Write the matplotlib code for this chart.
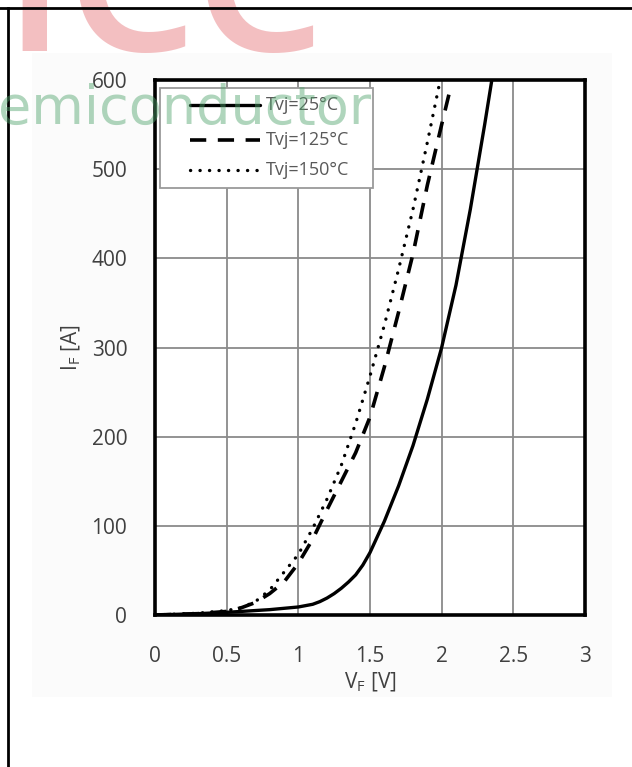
import matplotlib
matplotlib.use("Agg")
import matplotlib.pyplot as plt
from matplotlib.lines import Line2D
from matplotlib.patches import Rectangle

plt.rcParams['font.family'] = ['Open Sans', 'DejaVu Sans']

# ---- data ----
v_25 = [0, 0.3, 0.5, 0.8, 1.0, 1.05, 1.1, 1.15, 1.2, 1.25, 1.3, 1.35, 1.4, 1.45, 1.5,
        1.6, 1.7, 1.8, 1.9, 2.0, 2.1, 2.2, 2.3, 2.35]
i_25 = [0, 1.5, 3, 6, 9, 10.5, 12, 15, 19, 24, 30, 37, 45, 56, 70,
        105, 145, 190, 242, 300, 370, 455, 550, 600]

v_125 = [0, 0.3, 0.5, 0.6, 0.7, 0.8, 0.9, 1.0, 1.1, 1.2, 1.3, 1.4, 1.5, 1.6, 1.7,
         1.8, 1.9, 2.0, 2.06]
i_125 = [0, 1.5, 4, 8, 14, 24, 37, 58, 85, 118, 150, 182, 222, 278, 340,
         405, 482, 550, 590]

v_150 = [0, 0.3, 0.5, 0.6, 0.7, 0.8, 0.9, 1.0, 1.1, 1.2, 1.3, 1.4, 1.5, 1.6, 1.7,
         1.8, 1.9, 1.99]
i_150 = [0, 2, 5, 8, 15, 28, 48, 68, 97, 130, 168, 215, 268, 325, 388,
         455, 530, 600]

labels = ["Tvj=25°C", "Tvj=125°C", "Tvj=150°C"]
x_ticks = [0, 0.5, 1, 1.5, 2, 2.5, 3]
x_ticklabels = ["0", "0.5", "1", "1.5", "2", "2.5", "3"]
y_ticks = [0, 100, 200, 300, 400, 500, 600]

styles = [
    dict(color="black", lw=2.4, solid_capstyle="round"),
    dict(color="black", lw=2.6, dashes=(4.5, 3.2), dash_capstyle="butt"),
    dict(color="black", lw=2.4, dashes=(0.05, 2.8), dash_capstyle="round"),
]

W, H = 632, 767
fig = plt.figure(figsize=(W / 100, H / 100), dpi=100)

def fx(x):
    return x / W

def fy(y):
    return 1 - y / H

# faint scan background
fig.add_artist(Rectangle((fx(32), fy(697)), fx(612) - fx(32), fy(53) - fy(697),
                         transform=fig.transFigure, facecolor="#fbfbfb",
                         edgecolor="none", zorder=0))

ax = fig.add_axes([fx(155), fy(615), fx(585) - fx(155), fy(80) - fy(615)])
ax.set_facecolor("white")
ax.set_xlim(0, 3)
ax.set_ylim(0, 600)

tc = "#404040"
for v, i, st, lab in zip([v_25, v_125, v_150], [i_25, i_125, i_150], styles, labels):
    ax.plot(v, i, label=lab, zorder=3, **st)

ax.set_xticks(x_ticks)
ax.set_xticklabels(x_ticklabels)
ax.set_yticks(y_ticks)
ax.tick_params(length=0, labelsize=15, colors=tc)
ax.tick_params(axis="y", pad=20)
ax.tick_params(axis="x", pad=22)
ax.grid(True, color="#8a8a8a", lw=1.3)
ax.set_axisbelow(True)
for s in ax.spines.values():
    s.set_linewidth(2.6)
    s.set_color("black")

ax.set_xlabel(r"V$_\mathregular{F}$ [V]", fontsize=15, color=tc, labelpad=3)
ax.set_ylabel(r"I$_\mathregular{F}$ [A]", fontsize=15, color=tc, labelpad=6)

# legend (Excel-style box)
fig.add_artist(Rectangle((fx(160), fy(188)), fx(373) - fx(160), fy(88) - fy(188),
                         transform=fig.transFigure, facecolor="white",
                         edgecolor="#9a9a9a", lw=1.3, zorder=5))
for row_y, st, lab in zip([105, 140, 170], styles, labels):
    fig.add_artist(Line2D([fx(190), fx(260)], [fy(row_y), fy(row_y)],
                          transform=fig.transFigure, zorder=6, **st))
    fig.text(fx(266), fy(row_y), lab, fontsize=13, color="#595959",
             ha="left", va="center", zorder=6)

# border lines
fig.add_artist(Line2D([0, 1], [fy(8), fy(8)], transform=fig.transFigure,
                      color="black", lw=2, zorder=20))
fig.add_artist(Line2D([fx(8), fx(8)], [fy(8), 0], transform=fig.transFigure,
                      color="black", lw=2, zorder=20))

# watermark
fig.text(fx(2), fy(51), "ICC", fontsize=150, color="#f3bfc1", ha="left",
         va="baseline", zorder=15, fontweight="semibold")
fig.text(fx(-2), fy(124), "emiconductor", fontsize=39, color="#4fa36b", alpha=0.45,
         ha="left", va="baseline", zorder=30, family="DejaVu Sans")

fig.savefig("out.png", dpi=100)
